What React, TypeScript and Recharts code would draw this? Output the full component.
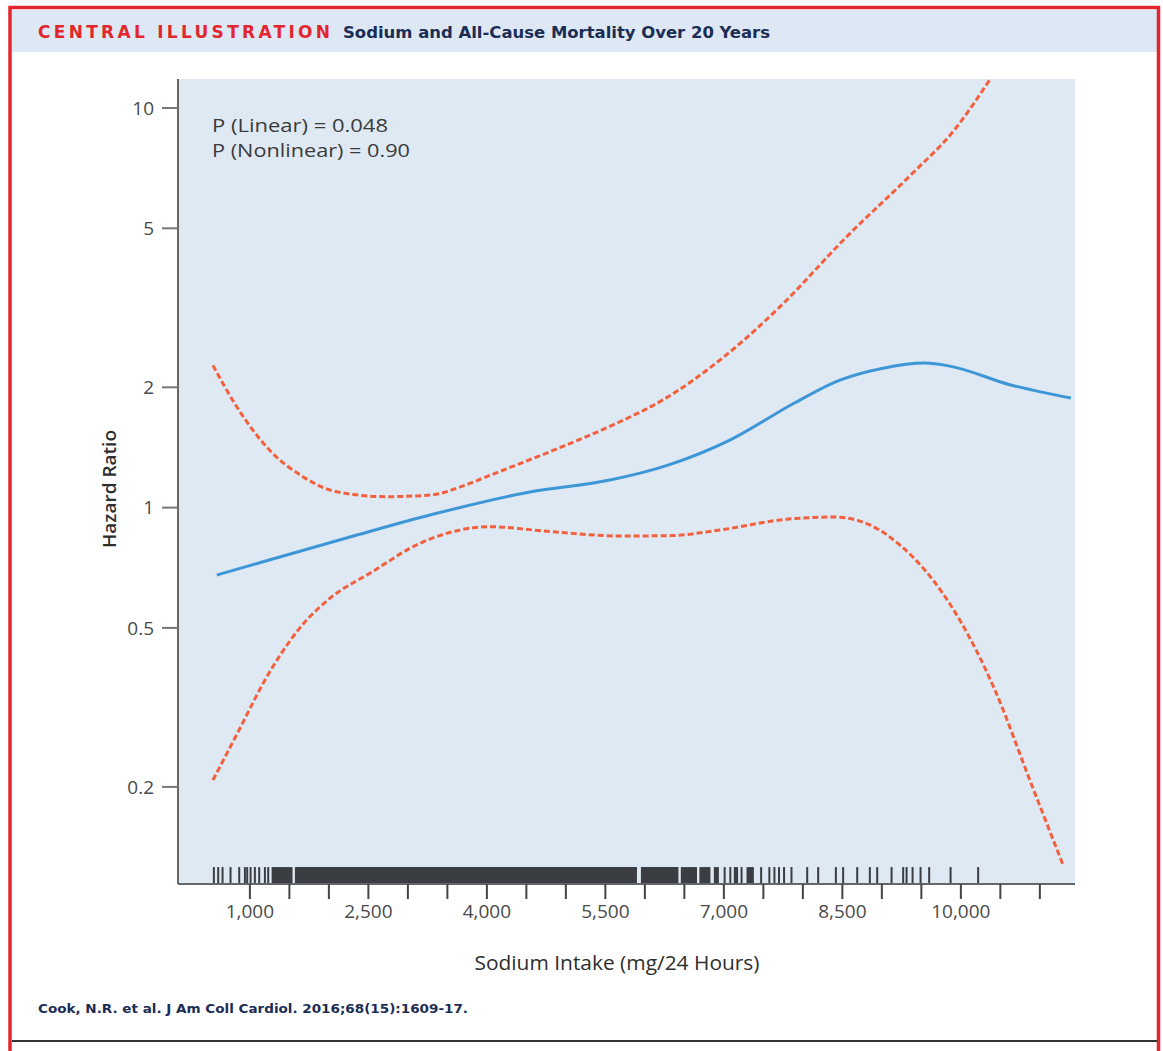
import React from 'react';
import { LineChart, Line, XAxis, YAxis, CartesianGrid, ReferenceLine, ReferenceArea } from 'recharts';

// Estimated hazard ratio (solid blue)
const estSodium = [582, 1300, 2266, 3278, 4544, 5557, 6253, 7076, 7899, 8469, 9000, 9544, 9861, 10620, 11392];
const estHR = [0.678, 0.745, 0.844, 0.958, 1.094, 1.172, 1.27, 1.476, 1.83, 2.085, 2.23, 2.3, 2.26, 2.03, 1.88];

// Upper 95% CI (dashed)
const upperSodium = [532, 832, 1253, 1671, 2097, 2730, 3278, 3785, 3996, 4836, 5684, 6228, 6950, 7709, 8553, 9393, 9899, 10370];
const upperHR = [2.27, 1.79, 1.39, 1.195, 1.096, 1.065, 1.075, 1.15, 1.195, 1.39, 1.64, 1.86, 2.34, 3.18, 4.76, 6.88, 8.72, 11.8];

// Lower 95% CI (dashed)
const lowerSodium = [532, 873, 1190, 1633, 2013, 2519, 3152, 3785, 3996, 4836, 5684, 6316, 6950, 7794, 8405, 8848, 9228, 9544, 9987, 10430, 10873, 11291];
const lowerHR = [0.208, 0.28, 0.37, 0.5, 0.593, 0.685, 0.814, 0.888, 0.896, 0.87, 0.849, 0.851, 0.879, 0.935, 0.947, 0.905, 0.806, 0.698, 0.523, 0.35, 0.208, 0.128];

// Rug of observed sodium intakes
const rugTicks = [544, 599, 654, 755, 865, 937, 966, 1009, 1063, 1118, 1190, 1232, 7010, 7082, 7224, 7472, 7576, 7640, 7698, 7762, 7856, 8055, 8194, 8418, 8510, 8688, 8848, 8941, 9123, 9270, 9313, 9389, 9490, 9599, 9870, 10219];
const rugBandStart = [1275, 1570, 5950, 6455, 6690, 6873, 7126, 7287];
const rugBandEnd = [1540, 5900, 6425, 6660, 6830, 6937, 7180, 7380];

// Axes
const xTicks = [1000, 1500, 2000, 2500, 3000, 3500, 4000, 4500, 5000, 5500, 6000, 6500, 7000, 7500, 8000, 8500, 9000, 9500, 10000, 10500, 11000];
const xLabeledTicks = [1000, 2500, 4000, 5500, 7000, 8500, 10000];
const yTicks = [0.2, 0.5, 1, 2, 5, 10];
const xDomain = [90, 11445];
const yDomain = [0.1143, 11.82];
const rugTopHR = 0.126;

const pLabels = ['P (Linear) = 0.048', 'P (Nonlinear) = 0.90'];
const pLabelWidths = [176, 198];

const estData = estSodium.map((x, i) => ({ x, hr: estHR[i] }));
const upperData = upperSodium.map((x, i) => ({ x, hr: upperHR[i] }));
const lowerData = lowerSodium.map((x, i) => ({ x, hr: lowerHR[i] }));

const RED = '#e3262d';
const NAVY = '#1c2d55';
const CI = '#f2603e';
const EST = '#3d96d6';
const RUG = '#3a3d42';
const FONT = '"Open Sans", "Noto Sans", sans-serif';

export default function App() {
  return (
    <div style={{ position: 'absolute', left: 0, top: 0, width: 1163, height: 1051, background: '#fff', overflow: 'hidden' }}>
      <svg width={1163} height={1051} style={{ position: 'absolute', left: 0, top: 0 }}>
        <rect x={12} y={10} width={1145} height={42} fill="#dde8f4" />
        <rect x={10} y={7.5} width={1148.5} height={1100} fill="none" stroke={RED} strokeWidth={3.5} />
        <line x1={12} y1={1041} x2={1157} y2={1041} stroke="#333" strokeWidth={2} />
        <text x={38} y={38} fill={RED} fontFamily='"DejaVu Sans", sans-serif' fontWeight={700} fontSize={17} textLength={292} lengthAdjust="spacing">CENTRAL ILLUSTRATION</text>
        <text x={343} y={38} fill={NAVY} fontFamily='"DejaVu Sans Condensed", "DejaVu Sans", sans-serif' fontWeight={700} fontSize={16} textLength={427} lengthAdjust="spacingAndGlyphs">Sodium and All-Cause Mortality Over 20 Years</text>
        <text x={38} y={1013} fill={NAVY} fontFamily='"DejaVu Sans Condensed", "DejaVu Sans", sans-serif' fontWeight={700} fontSize={12} textLength={430} lengthAdjust="spacingAndGlyphs">Cook, N.R. et al. J Am Coll Cardiol. 2016;68(15):1609-17.</text>
      </svg>
      <div style={{ position: 'absolute', left: 0, top: 0 }}>
        <LineChart width={1163} height={1000} margin={{ top: 79, right: 88, left: 118, bottom: 56 }}>
          <CartesianGrid fill="#dfe9f4" horizontal={false} vertical={false} stroke="none" />
          <XAxis
            type="number"
            dataKey="x"
            domain={xDomain}
            allowDataOverflow
            ticks={xTicks}
            interval={0}
            height={60}
            tickSize={15}
            tickMargin={6}
            tickFormatter={(v: number) => (xLabeledTicks.includes(v) ? v.toLocaleString('en-US') : '')}
            tick={{ fill: '#4a4a4a', fontSize: 19, fontFamily: FONT }}
            tickLine={{ stroke: '#444', strokeWidth: 2 }}
            axisLine={{ stroke: '#666', strokeWidth: 2 }}
          />
          <YAxis
            type="number"
            scale="log"
            dataKey="hr"
            domain={yDomain}
            allowDataOverflow
            ticks={yTicks}
            interval={0}
            width={60}
            tickSize={16}
            tickMargin={8}
            tick={{ fill: '#4a4a4a', fontSize: 19, fontFamily: FONT }}
            tickLine={{ stroke: '#777', strokeWidth: 2 }}
            axisLine={{ stroke: '#666', strokeWidth: 2 }}
          />
          {rugBandStart.map((s, i) => (
            <ReferenceArea key={'b' + i} x1={s} x2={rugBandEnd[i]} y1={yDomain[0]} y2={rugTopHR} fill={RUG} fillOpacity={1} stroke="none" ifOverflow="visible" />
          ))}
          {rugTicks.map((v, i) => (
            <ReferenceLine key={'t' + i} segment={[{ x: v, y: yDomain[0] }, { x: v, y: rugTopHR }]} stroke={RUG} strokeWidth={2} ifOverflow="visible" />
          ))}
          <Line data={upperData} dataKey="hr" type="monotone" stroke={CI} strokeWidth={3} strokeDasharray="6 3" dot={false} isAnimationActive={false} />
          <Line data={lowerData} dataKey="hr" type="monotone" stroke={CI} strokeWidth={3} strokeDasharray="6 3" dot={false} isAnimationActive={false} />
          <Line data={estData} dataKey="hr" type="monotone" stroke={EST} strokeWidth={3} dot={false} isAnimationActive={false} />
        </LineChart>
      </div>
      <svg width={1163} height={1051} style={{ position: 'absolute', left: 0, top: 0, pointerEvents: 'none' }}>
        {pLabels.map((t, i) => (
          <text key={t} x={212} y={132 + i * 25} fill="#3a3a3a" fontFamily={FONT} fontSize={19} textLength={pLabelWidths[i]} lengthAdjust="spacingAndGlyphs">{t}</text>
        ))}
        <text transform="translate(116,489) rotate(-90)" textAnchor="middle" fill="#2e2e2e" fontFamily={FONT} fontSize={18} fontWeight={600} textLength={118} lengthAdjust="spacingAndGlyphs">Hazard Ratio</text>
        <text x={617} y={970} textAnchor="middle" fill="#2e2e2e" fontFamily={FONT} fontSize={20} fontWeight={500} textLength={285} lengthAdjust="spacingAndGlyphs">Sodium Intake (mg/24 Hours)</text>
      </svg>
    </div>
  );
}
